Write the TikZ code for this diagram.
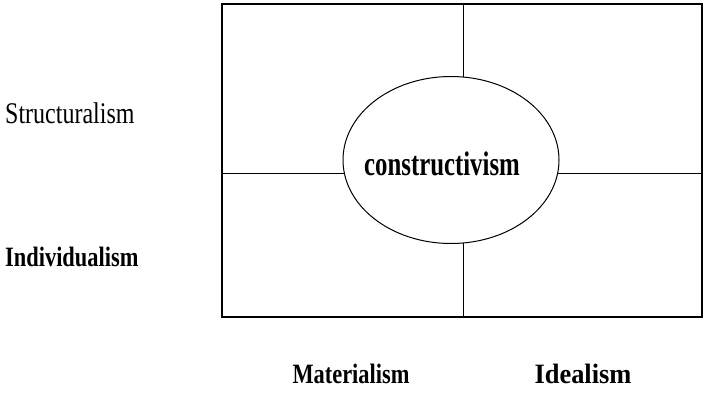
\documentclass[tikz,border=0pt]{standalone}
\usepackage{fontspec}
\setmainfont{Liberation Serif}[FakeStretch=0.8]
\usetikzlibrary{shapes.geometric}
\begin{document}
\begin{tikzpicture}[x=1pt,y=-1pt,
  frame/.style={draw,line width=1.2pt},
  divider/.style={draw,line width=1pt},
  lbl/.style={font=\fontsize{28}{32}\selectfont\bfseries,inner sep=0pt},
  lblr/.style={font=\fontsize{30}{34}\selectfont,inner sep=0pt}]
\useasboundingbox (0,0) rectangle (703,394);
\coordinate (tl) at (222,4);
\coordinate (br) at (702,317);
\coordinate (cc) at (451,160);
\coordinate (vt) at (463,4);
\coordinate (vb) at (463,317);
\coordinate (hl) at (222,173);
\coordinate (hr) at (702,173);
\draw[divider] (vt) -- (vb);
\draw[divider] (hl) -- (hr);
\draw[frame] (tl) rectangle (br);
\node[ellipse,draw,line width=1pt,fill=white,minimum width=216pt,minimum height=167pt,inner sep=0pt] (c) at (cc) {};
\node[font=\fontsize{31}{34}\selectfont\bfseries,inner sep=0pt] (ct) at (442,164) {\scalebox{1}[1.1]{constructivism}};
\node[lblr,anchor=west] (s) at (5,113) {Structuralism};
\node[lbl,anchor=west] (i) at (5,257) {Individualism};
\node[lbl] (m) at (351,374) {Materialism};
\node[lbl] (id) at (583,374) {\scalebox{1.18}[1]{Idealism}};
\end{tikzpicture}
\end{document}
